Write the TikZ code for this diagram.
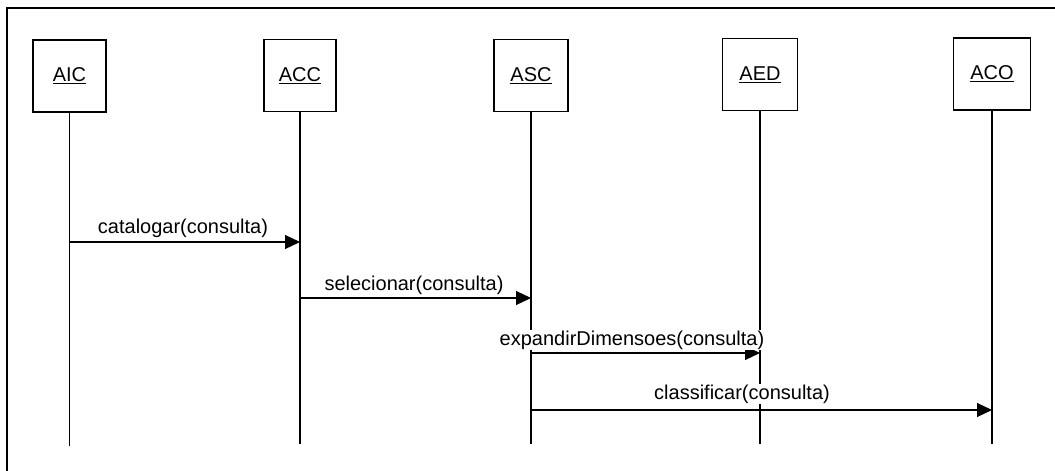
\documentclass[tikz,border=0pt]{standalone}
\usepackage{fontspec}
\setmainfont{Liberation Sans}
\usetikzlibrary{arrows.meta}
\begin{document}
\begin{tikzpicture}[x=1pt,y=-1pt,
  actor/.style={draw,line width=1.5pt,minimum width=#1,minimum height=72pt,inner sep=0pt,font=\fontsize{20}{24}\selectfont},
  actor/.default=74pt,
  lifeline/.style={line width=1.5pt},
  msg/.style={line width=1.1pt,-{Triangle[length=15pt,width=14pt]}},
  msglabel/.style={anchor=base,inner sep=1pt,fill=white,font=\fontsize{20}{24}\selectfont},
  frameline/.style={line width=1.8pt}]
\useasboundingbox (0,0) rectangle (1055,471);
% frame
\coordinate (fa) at (7,471);
\coordinate (fb) at (7,8);
\coordinate (fc) at (1055,8);
\draw[frameline] (fa) -- (fb) -- (fc);
% actors
\node[actor=73pt] (aic) at (69.5,76) {\underline{AIC}};
\node[actor=72pt] (acc) at (300,75.5) {\underline{ACC}};
\node[actor=74pt] (asc) at (531,75.5) {\underline{ASC}};
\node[actor=75pt] (aed) at (760,74.5) {\underline{AED}};
\node[actor=77pt] (aco) at (992,74) {\underline{ACO}};
% lifeline ends
\coordinate (aicb) at (69.5,446);
\coordinate (accb) at (300,444);
\coordinate (ascb) at (531,444);
\coordinate (aedb) at (760,444);
\coordinate (acob) at (992,444);
\draw[lifeline] (aic.south) -- (aicb);
\draw[lifeline] (acc.south) -- (accb);
\draw[lifeline] (asc.south) -- (ascb);
\draw[lifeline] (aed.south) -- (aedb);
\draw[lifeline] (aco.south) -- (acob);
% message points
\coordinate (m1s) at (69.5,242);
\coordinate (m1e) at (300,242);
\coordinate (m2s) at (300,298);
\coordinate (m2e) at (531,298);
\coordinate (m3s) at (531,353);
\coordinate (m3e) at (760,353);
\coordinate (m4s) at (531,410);
\coordinate (m4e) at (992,410);
\draw[msg] (m1s) -- (m1e);
\draw[msg] (m2s) -- (m2e);
\draw[msg] (m3s) -- (m3e);
\draw[msg] (m4s) -- (m4e);
% labels
\node[msglabel] (l1) at (183,233) {catalogar(consulta)};
\node[msglabel] (l2) at (414,290) {selecionar(consulta)};
\node[msglabel] (l3) at (632,345) {expandirDimensoes(consulta)};
\node[msglabel] (l4) at (742,399) {classificar(consulta)};
\end{tikzpicture}
\end{document}
